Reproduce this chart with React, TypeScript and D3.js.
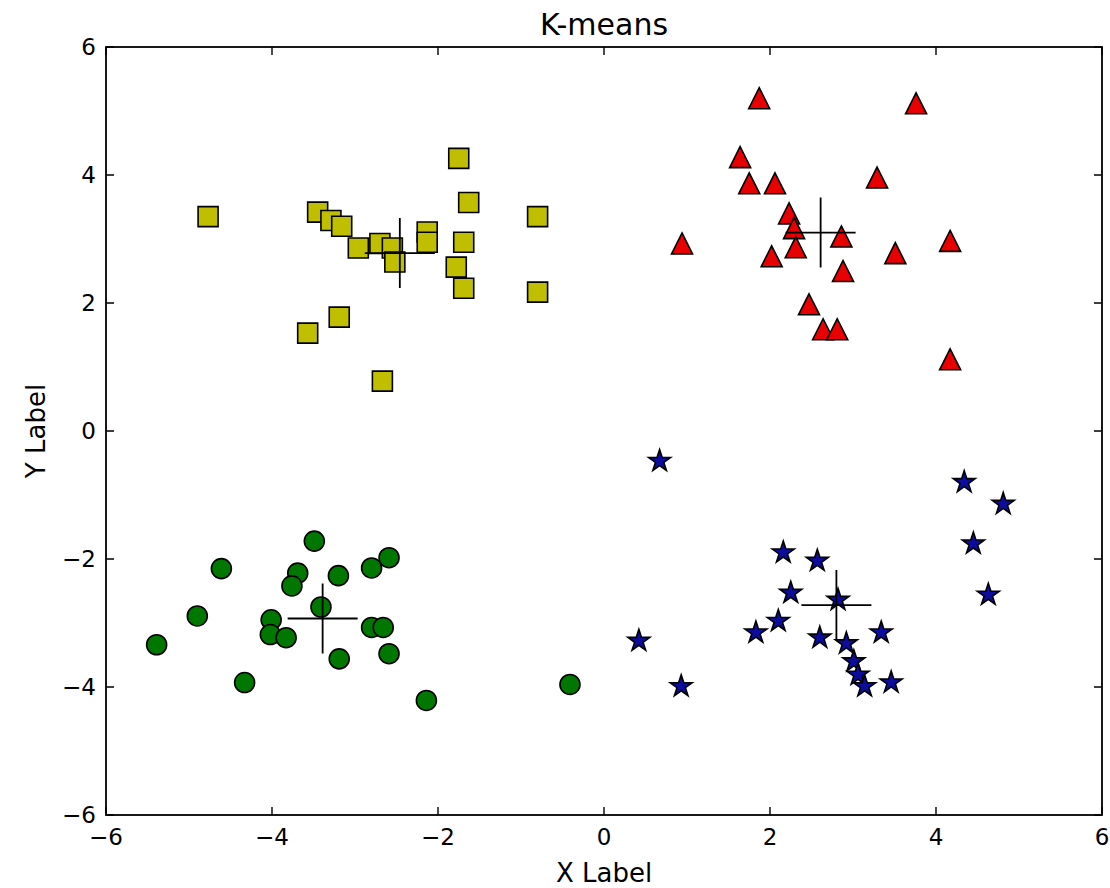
import { useRef, useEffect } from 'react';
import * as d3 from 'd3';

// cluster points
const squaresX = [-4.77, -3.45, -3.29, -3.16, -2.96, -2.70, -2.55, -2.52, -2.13, -2.13, -1.75, -1.63, -1.69, -1.78, -1.69, -0.80, -0.80, -3.57, -3.19, -2.67];
const squaresY = [3.35, 3.42, 3.29, 3.20, 2.86, 2.93, 2.86, 2.64, 3.11, 2.95, 4.26, 3.57, 2.95, 2.56, 2.23, 3.35, 2.17, 1.53, 1.78, 0.78];

const trianglesX = [1.87, 3.76, 1.64, 1.75, 2.06, 3.29, 2.23, 2.29, 2.31, 0.94, 2.02, 2.86, 2.88, 3.51, 4.17, 2.47, 2.64, 2.81, 4.17];
const trianglesY = [5.20, 5.12, 4.28, 3.87, 3.87, 3.96, 3.40, 3.17, 2.87, 2.93, 2.73, 3.04, 2.50, 2.78, 2.97, 1.98, 1.59, 1.59, 1.12];

const circlesX = [-3.49, -4.61, -3.69, -3.76, -3.20, -2.80, -2.59, -3.41, -4.90, -4.01, -4.02, -3.83, -2.80, -2.66, -5.39, -3.19, -2.59, -4.33, -2.14, -0.41];
const circlesY = [-1.72, -2.15, -2.22, -2.42, -2.26, -2.14, -1.98, -2.75, -2.89, -2.95, -3.18, -3.23, -3.07, -3.07, -3.34, -3.56, -3.48, -3.93, -4.21, -3.96];

const starsX = [0.67, 4.34, 4.81, 4.45, 4.63, 2.16, 2.57, 2.25, 2.82, 2.10, 1.83, 2.60, 3.34, 0.42, 2.92, 3.01, 3.06, 3.14, 3.46, 0.93];
const starsY = [-0.47, -0.80, -1.14, -1.76, -2.56, -1.90, -2.03, -2.53, -2.64, -2.97, -3.15, -3.23, -3.15, -3.28, -3.32, -3.60, -3.81, -3.99, -3.93, -3.99];

// centroids (yellow, red, green, blue)
const centroidX = [-2.46, 2.61, -3.39, 2.80];
const centroidY = [2.78, 3.10, -2.93, -2.72];

const ticks = [-6, -4, -2, 0, 2, 4, 6];

const W = 1110;
const H = 888;
const FONT = '"DejaVu Sans", sans-serif';

export default function App() {
  const svgRef = useRef<SVGSVGElement | null>(null);

  useEffect(() => {
    if (!svgRef.current) return;
    const svg = d3.select(svgRef.current);
    svg.selectAll('*').remove();

    const margin = { top: 47, right: 8, bottom: 73, left: 106 };
    const x = d3.scaleLinear().domain([-6, 6]).range([margin.left, W - margin.right]);
    const y = d3.scaleLinear().domain([-6, 6]).range([H - margin.bottom, margin.top]);

    svg.append('rect').attr('width', W).attr('height', H).attr('fill', '#fff');

    const g = svg.append('g');

    const drawSeries = (xs: number[], ys: number[], path: string, fill: string) => {
      g.selectAll(null)
        .data(xs.map((v, i) => [v, ys[i]]))
        .enter()
        .append('path')
        .attr('d', path)
        .attr('transform', d => `translate(${x(d[0])},${y(d[1])})`)
        .attr('fill', fill)
        .attr('stroke', '#000')
        .attr('stroke-width', 1.6);
    };

    const square = d3.symbol(d3.symbolSquare, 400)()!;
    const triangle = 'M0,-10.5L10.5,10.5L-10.5,10.5Z';
    const circle = d3.symbol(d3.symbolCircle, Math.PI * 100)()!;
    const star = d3.symbol(d3.symbolStar, 150)()!;

    drawSeries(squaresX, squaresY, square, '#bfbf00');
    drawSeries(trianglesX, trianglesY, triangle, '#e80000');
    drawSeries(circlesX, circlesY, circle, '#007800');
    drawSeries(starsX, starsY, star, '#0c0c9e');

    // centroid crosses
    centroidX.forEach((cx, i) => {
      const px = x(cx);
      const py = y(centroidY[i]);
      g.append('path')
        .attr('d', `M${px - 35},${py}H${px + 35}M${px},${py - 35}V${py + 35}`)
        .attr('stroke', '#000')
        .attr('stroke-width', 1.8)
        .attr('fill', 'none');
    });

    // frame + inward ticks on all sides
    const frame = svg.append('g');
    const tickLen = 8;
    ticks.forEach(t => {
      frame.append('path')
        .attr('d', `M${x(t)},${y(-6)}v${-tickLen}M${x(t)},${y(6)}v${tickLen}M${x(-6)},${y(t)}h${tickLen}M${x(6)},${y(t)}h${-tickLen}`)
        .attr('stroke', '#000')
        .attr('stroke-width', 1.4);
    });
    frame.append('rect')
      .attr('x', x(-6))
      .attr('y', y(6))
      .attr('width', x(6) - x(-6))
      .attr('height', y(-6) - y(6))
      .attr('fill', 'none')
      .attr('stroke', '#000')
      .attr('stroke-width', 1.8);

    const fmt = (t: number) => (t < 0 ? `\u2212${Math.abs(t)}` : `${t}`);

    ticks.forEach(t => {
      svg.append('text')
        .attr('x', x(t))
        .attr('y', y(-6) + 30)
        .attr('text-anchor', 'middle')
        .attr('font-family', FONT)
        .attr('font-size', 23)
        .attr('fill', '#000')
        .text(fmt(t));
      svg.append('text')
        .attr('x', x(-6) - 10)
        .attr('y', y(t) + 8)
        .attr('text-anchor', 'end')
        .attr('font-family', FONT)
        .attr('font-size', 23)
        .attr('fill', '#000')
        .text(fmt(t));
    });

    svg.append('text')
      .attr('x', (x(-6) + x(6)) / 2)
      .attr('y', 35)
      .attr('text-anchor', 'middle')
      .attr('font-family', FONT)
      .attr('font-size', 30)
      .attr('fill', '#000')
      .text('K-means');

    svg.append('text')
      .attr('x', (x(-6) + x(6)) / 2)
      .attr('y', 882)
      .attr('text-anchor', 'middle')
      .attr('font-family', FONT)
      .attr('font-size', 26)
      .attr('fill', '#000')
      .text('X Label');

    svg.append('text')
      .attr('transform', `translate(45,${(y(-6) + y(6)) / 2}) rotate(-90)`)
      .attr('text-anchor', 'middle')
      .attr('font-family', FONT)
      .attr('font-size', 26)
      .attr('fill', '#000')
      .text('Y Label');
  }, []);

  return (
    <svg ref={svgRef} width={W} height={H} style={{ position: 'absolute', left: 0, top: 0, display: 'block' }} />
  );
}
